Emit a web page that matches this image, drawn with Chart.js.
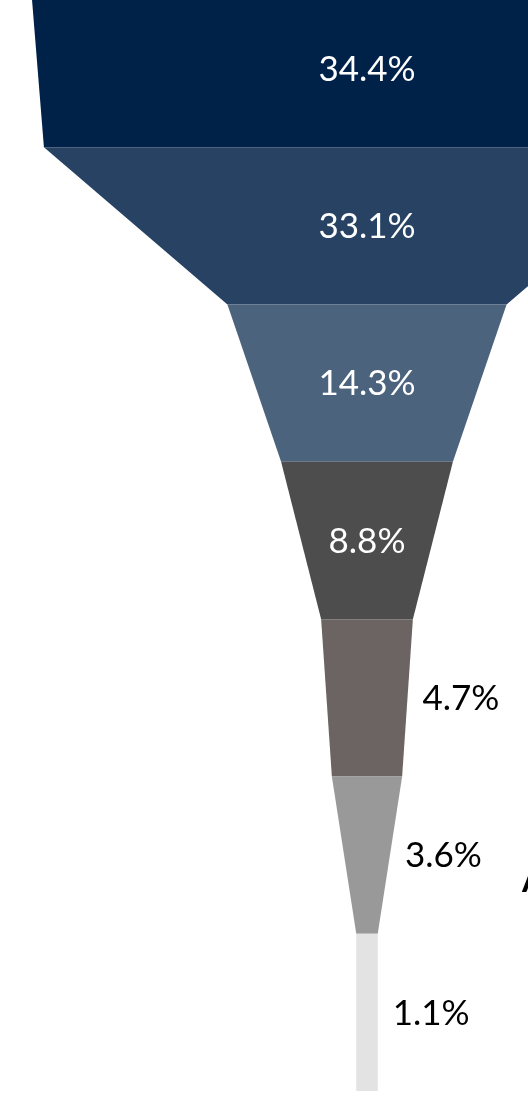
<!DOCTYPE html>
<html>
<head>
<meta charset="utf-8">
<script src="https://cdn.jsdelivr.net/npm/chart.js@4.4.1/dist/chart.umd.min.js"></script>
<style>
  html, body { margin: 0; padding: 0; background: #ffffff; overflow: hidden; width: 528px; height: 1113px; }
  #wrap { position: absolute; left: 0; top: -10px; width: 734px; height: 1101px; }
</style>
</head>
<body>
<div id="wrap"><canvas id="c" width="734" height="1101"></canvas></div>
<script>
// ---- data ----
const categories = ['Stage 1', 'Stage 2', 'Stage 3', 'Stage 4', 'Stage 5', 'Stage 6', 'Stage 7'];
const values = [34.4, 33.1, 14.3, 8.8, 4.7, 3.6, 1.1];
const valueLabels = ['34.4%', '33.1%', '14.3%', '8.8%', '4.7%', '3.6%', '1.1%'];
const colors = ['#002148', '#274263', '#4c637e', '#4d4d4d', '#6c6462', '#999999', '#e3e3e3'];
const sideText = 'A';

const LABEL_FONT = '35px Lato, "Noto Sans", sans-serif';

const funnelPlugin = {
  id: 'funnel',
  beforeDatasetDraw(chart, args) {
    const ctx = chart.ctx;
    const els = args.meta.data;
    ctx.save();
    for (let i = 0; i < els.length; i++) {
      const el = els[i];
      const nxt = els[i + 1] || el;
      const top = el.y - el.height / 2;
      const bot = el.y + el.height / 2;
      const tl = Math.min(el.base, el.x), tr = Math.max(el.base, el.x);
      const bl = Math.min(nxt.base, nxt.x), br = Math.max(nxt.base, nxt.x);
      ctx.beginPath();
      ctx.moveTo(tl, top);
      ctx.lineTo(tr, top);
      ctx.lineTo(br, bot);
      ctx.lineTo(bl, bot);
      ctx.closePath();
      ctx.fillStyle = colors[i];
      ctx.fill();
    }
    ctx.restore();
    return false;
  },
  afterDatasetsDraw(chart) {
    const ctx = chart.ctx;
    const els = chart.getDatasetMeta(0).data;
    ctx.save();
    ctx.font = LABEL_FONT;
    ctx.textBaseline = 'middle';
    for (let i = 0; i < els.length; i++) {
      const el = els[i];
      const nxt = els[i + 1] || el;
      const tr = Math.max(el.base, el.x), tl = Math.min(el.base, el.x);
      const br = Math.max(nxt.base, nxt.x), bl = Math.min(nxt.base, nxt.x);
      const midW = ((tr - tl) + (br - bl)) / 2;
      const midR = (tr + br) / 2;
      const cx = (tl + tr) / 2;
      const txt = valueLabels[i];
      const w = ctx.measureText(txt).width;
      if (w + 30 < midW) {
        ctx.fillStyle = '#ffffff';
        ctx.textAlign = 'center';
        ctx.fillText(txt, cx, el.y + 1);
      } else {
        ctx.fillStyle = '#000000';
        ctx.textAlign = 'left';
        ctx.fillText(txt, midR + 15, el.y + 1);
      }
    }
    // partially visible side text (cut off at the right edge)
    const e6 = els[5];
    ctx.font = 'bold 34px Lato, "Noto Sans", sans-serif';
    ctx.textAlign = 'left';
    ctx.textBaseline = 'alphabetic';
    ctx.fillStyle = '#000000';
    ctx.fillText(sideText, 522, e6.y + 37);
    ctx.restore();
  }
};

new Chart(document.getElementById('c'), {
  type: 'bar',
  data: {
    labels: categories,
    datasets: [{
      data: values.map(v => [-v / 2, v / 2]),
      backgroundColor: colors,
      borderWidth: 0,
      barPercentage: 1,
      categoryPercentage: 1
    }]
  },
  options: {
    indexAxis: 'y',
    responsive: false,
    animation: false,
    devicePixelRatio: 1,
    layout: { padding: 0 },
    scales: {
      x: { type: 'linear', min: -18.8, max: 18.8, display: false },
      y: { type: 'category', display: false, offset: true }
    },
    plugins: {
      legend: { display: false },
      tooltip: { enabled: false },
      title: { display: false }
    }
  },
  plugins: [funnelPlugin]
});
</script>
</body>
</html>
